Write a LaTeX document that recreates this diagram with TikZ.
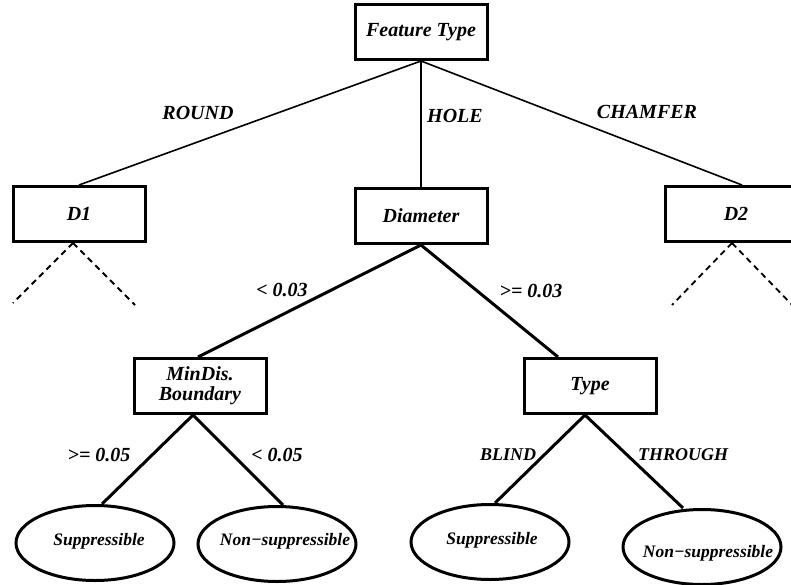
\documentclass[tikz,border=0pt]{standalone}
\usepackage{fontspec}
\setmainfont{Liberation Serif}
\usetikzlibrary{shapes.geometric}
\begin{document}
\begin{tikzpicture}[x=1pt,y=-1pt,
  bi/.style={font=\fontsize{#1}{20}\selectfont\bfseries\itshape},
  bi/.default=20,
  testbox/.style={draw, line width=3pt, inner sep=0pt, minimum width=132pt,
    minimum height=55pt, align=center, bi},
  leaf/.style={ellipse, draw, line width=3pt, inner sep=0pt,
    minimum width=158pt, minimum height=75pt},
  leaftext/.style={bi=17.5},
  edge/.style={line width=1.6pt},
  branch/.style={line width=3pt},
  cont/.style={line width=1.8pt, dash pattern=on 6pt off 4.5pt},
  lbl/.style={bi, inner sep=0pt},
  lbls/.style={bi=18, inner sep=0pt}]
\useasboundingbox (0,0) rectangle (791,585);

% decision nodes
\node[testbox] (ft) at (421,32) {Feature Type};
\node[testbox] (d1) at (79,214) {D1};
\node[testbox] (dia) at (421,216) {Diameter};
\node[testbox, minimum width=142pt] (d2) at (736,214) {D2};
\node[testbox] (mind) at (200,386) {MinDis.\\Boundary};
\node[testbox] (type) at (590,386) {Type};

% leaves
\node[leaf] (ls) at (95,543) {};
\node[leaftext] at (99,541) {Suppressible};
\node[leaf] (ln) at (277,544) {};
\node[leaftext] at (285,541) {Non−suppressible};
\node[leaf] (rs) at (490,542) {};
\node[leaftext] at (492,540) {Suppressible};
\node[leaf] (rn) at (702,547) {};
\node[leaftext] at (708,553) {Non−suppressible};

% top level branches
\draw[edge] (ft.south) -- (d1.north);
\draw[edge] (ft.south) -- (dia.north);
\draw[edge] (ft.south) -- ([xshift=6pt]d2.north);

% truncated subtrees
\coordinate (d1l) at (13,303);
\coordinate (d1r) at (135,305);
\coordinate (d2l) at (672,305);
\coordinate (d2r) at (795,308);
\draw[cont] ([xshift=-6pt]d1.south) -- (d1l);
\draw[cont] ([xshift=-6pt]d1.south) -- (d1r);
\draw[cont] ([xshift=-4pt]d2.south) -- (d2l);
\draw[cont] ([xshift=-4pt]d2.south) -- (d2r);

% hole subtree
\draw[branch] (dia.south) -- ([xshift=-2pt]mind.north);
\draw[branch] (dia.south) -- ([xshift=-32pt]type.north);
\draw[branch] ([xshift=-7pt]mind.south) -- ([xshift=7pt]ls.north);
\draw[branch] ([xshift=-7pt]mind.south) -- ([xshift=6pt]ln.north);
\draw[branch] ([xshift=-5pt]type.south) -- ([xshift=5pt]rs.north);
\draw[branch] ([xshift=-5pt]type.south) -- ([xshift=-19pt]rn.north);

% branch labels
\node[lbl] at (198,113) {ROUND};
\node[lbl] at (455,116) {HOLE};
\node[lbl] at (647,112) {CHAMFER};
\node[lbl] at (282,290) {< 0.03};
\node[lbl] at (531,291) {>= 0.03};
\node[lbl] at (99,455) {>= 0.05};
\node[lbl] at (277,455) {< 0.05};
\node[lbls] at (508,455) {BLIND};
\node[lbls] at (683,455) {THROUGH};
\end{tikzpicture}
\end{document}
